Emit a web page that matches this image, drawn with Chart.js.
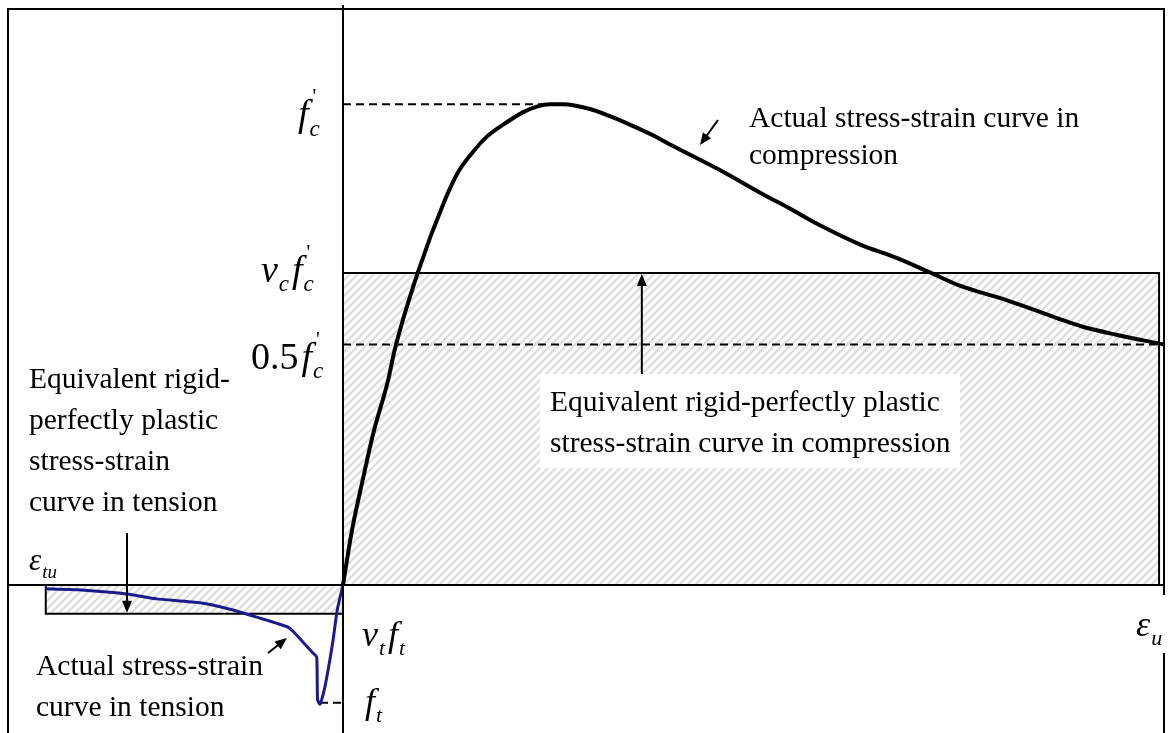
<!DOCTYPE html>
<html>
<head>
<meta charset="utf-8">
<script src="https://cdn.jsdelivr.net/npm/chart.js@4.4.0/dist/chart.umd.min.js"></script>
<style>
  html, body { margin: 0; padding: 0; background: #fff; }
  #wrap { width: 1175px; height: 733px; position: relative; }
</style>
</head>
<body>
<div id="wrap"><canvas id="stressStrain"></canvas></div>
<script>
// Strain is normalised by eps_u, stress by f'c (compression positive).
const compStrain = [0, 0.011, 0.024, 0.037, 0.055, 0.063, 0.091, 0.124, 0.140, 0.158, 0.175, 0.200, 0.219, 0.236, 0.252, 0.268,
  0.301, 0.325, 0.350, 0.378, 0.402, 0.459, 0.512, 0.541, 0.581, 0.630, 0.675, 0.715, 0.752, 0.780, 0.809, 0.873, 0.901, 0.943, 1.0];
const compStress = [0, 0.114, 0.218, 0.316, 0.426, 0.489, 0.649, 0.800, 0.858, 0.900, 0.932, 0.963, 0.983, 0.995, 1.0, 1.0,
  0.990, 0.975, 0.957, 0.935, 0.913, 0.863, 0.812, 0.786, 0.748, 0.708, 0.680, 0.650, 0.622, 0.607, 0.592, 0.553, 0.537, 0.520, 0.5];

const tensStrain = [-0.362, -0.323, -0.263, -0.227, -0.174, -0.134, -0.105, -0.068, -0.060, -0.037, -0.032, -0.031, -0.028,
  -0.022, -0.016, -0.012, -0.007, 0];
const tensStress = [-0.008, -0.010, -0.019, -0.029, -0.037, -0.052, -0.067, -0.087, -0.098, -0.141, -0.150, -0.239, -0.248,
  -0.212, -0.156, -0.114, -0.052, 0];

// characteristic levels
const fc = 1.0;
const vcFc = 0.649;
const halfFc = 0.5;
const vtFt = -0.060;
const ft = -0.245;
const epsU = 1.0;
const epsTu = -0.362;
const blockEnd = 0.994;
const fcDashEnd = 0.276;
const ftDashStart = -0.028;

const xMin = -0.408, xMax = epsU;
const yMin = -0.308, yMax = 1.198;

const SERIF = '"Liberation Serif", "Times New Roman", serif';

function pts(xs, ys) {
  return xs.map((x, i) => ({ x: x, y: ys[i] }));
}

function hatchPattern() {
  const c = document.createElement('canvas');
  c.width = 8; c.height = 8;
  const g = c.getContext('2d');
  g.strokeStyle = '#dedede';
  g.lineWidth = 2.3;
  g.beginPath();
  g.moveTo(0, 8); g.lineTo(8, 0);
  g.moveTo(-1, 1); g.lineTo(1, -1);
  g.moveTo(7, 9); g.lineTo(9, 7);
  g.stroke();
  return g.createPattern(c, 'repeat');
}

function arrow(ctx, x1, y1, x2, y2) {
  const a = Math.atan2(y2 - y1, x2 - x1);
  const len = 12, half = 5;
  ctx.beginPath();
  ctx.moveTo(x1, y1);
  ctx.lineTo(x2 - Math.cos(a) * len * 0.8, y2 - Math.sin(a) * len * 0.8);
  ctx.stroke();
  ctx.beginPath();
  ctx.moveTo(x2, y2);
  ctx.lineTo(x2 - Math.cos(a) * len - Math.sin(a) * half, y2 - Math.sin(a) * len + Math.cos(a) * half);
  ctx.lineTo(x2 - Math.cos(a) * len + Math.sin(a) * half, y2 - Math.sin(a) * len - Math.cos(a) * half);
  ctx.closePath();
  ctx.fill();
}

// symbol with subscript and optional prime, e.g. f_c'
function symbol(ctx, pieces, x, y, size) {
  const sub = Math.round(size * 0.6);
  let cx = x;
  pieces.forEach(p => {
    ctx.font = (p.upright ? '' : 'italic ') + size + 'px ' + SERIF;
    ctx.fillText(p.base, cx, y);
    cx += ctx.measureText(p.base).width;
    let w = 0;
    if (p.sub) {
      ctx.font = 'italic ' + sub + 'px ' + SERIF;
      ctx.fillText(p.sub, cx + 1, y + size * 0.25);
      w = ctx.measureText(p.sub).width + 1;
    }
    if (p.prime) {
      ctx.font = Math.round(size * 0.55) + 'px ' + SERIF;
      ctx.fillText("'", cx + 4, y - size * 0.6);
      w = Math.max(w, 8);
    }
    cx += w + (p.gap || 0);
  });
}

function textLines(ctx, lines, x, y, step) {
  ctx.font = '29.5px ' + SERIF;
  lines.forEach((t, i) => ctx.fillText(t, x, y + i * step));
}

const decor = {
  id: 'decor',
  afterDatasetsDraw(chart) {
    const { ctx, chartArea: a, scales: { x, y } } = chart;
    const x0 = x.getPixelForValue(0), y0 = y.getPixelForValue(0);
    ctx.save();
    ctx.strokeStyle = '#000';
    ctx.fillStyle = '#000';
    ctx.lineWidth = 2;
    ctx.textBaseline = 'alphabetic';

    // outer frame (open at the bottom) and the two axes
    ctx.beginPath();
    ctx.moveTo(a.left, a.bottom); ctx.lineTo(a.left, a.top);
    ctx.lineTo(a.right, a.top); ctx.lineTo(a.right, a.bottom);
    ctx.moveTo(x0, a.top - 4); ctx.lineTo(x0, a.bottom);
    ctx.moveTo(a.left, y0); ctx.lineTo(a.right, y0);
    ctx.stroke();

    // pointers
    arrow(ctx, 718, 120, 700, 145);
    arrow(ctx, x.getPixelForValue(0.364), 375, x.getPixelForValue(0.364), y.getPixelForValue(vcFc) + 1);
    arrow(ctx, 127, 533, 127, y.getPixelForValue(vtFt) - 1);
    arrow(ctx, 268, 653, 287, 638);

    // white panels behind labels
    ctx.fillStyle = '#fff';
    ctx.fillRect(540, 374, 420, 94);
    ctx.fillRect(a.right - 31, 595, 42, 58);
    ctx.fillRect(25, 545, 44, 38);
    ctx.fillStyle = '#000';

    textLines(ctx, ['Actual stress-strain curve in', 'compression'], 749, 127, 37);
    textLines(ctx, ['Equivalent rigid-perfectly plastic', 'stress-strain curve in compression'], 550, 411, 41);
    textLines(ctx, ['Equivalent rigid-', 'perfectly plastic', 'stress-strain', 'curve in tension'], 29, 388, 41);
    textLines(ctx, ['Actual stress-strain', 'curve in tension'], 36, 675, 41);

    // level symbols along the stress axis
    symbol(ctx, [{ base: 'f', sub: 'c', prime: true }], x0 - 45, y.getPixelForValue(fc) + 22, 38);
    symbol(ctx, [{ base: 'v', sub: 'c', gap: 3 }, { base: 'f', sub: 'c', prime: true }], x0 - 82, y.getPixelForValue(vcFc) + 9, 38);
    symbol(ctx, [{ base: '0.5', upright: true, gap: 3 }, { base: 'f', sub: 'c', prime: true }], x0 - 92, y.getPixelForValue(halfFc) + 24, 38);
    symbol(ctx, [{ base: 'v', sub: 't', gap: 3 }, { base: 'f', sub: 't' }], x0 + 19, y.getPixelForValue(vtFt) + 32, 36);
    symbol(ctx, [{ base: 'f', sub: 't' }], x0 + 22, y.getPixelForValue(ft) + 10, 36);
    symbol(ctx, [{ base: '\u03b5', sub: 'u' }], x.getPixelForValue(epsU) - 28, 636, 36);
    symbol(ctx, [{ base: '\u03b5', sub: 'tu' }], 29, 570, 31);
    ctx.restore();
  }
};

document.addEventListener('DOMContentLoaded', function() {
  const hatch = hatchPattern();
  const dashed = { borderColor: '#000', borderWidth: 2, borderDash: [8, 5], pointRadius: 0, fill: false, order: 3 };

  new Chart(document.getElementById('stressStrain'), {
    type: 'scatter',
    data: {
      datasets: [
        {
          label: 'compression',
          data: pts(compStrain, compStress),
          showLine: true, borderColor: '#000', borderWidth: 4, cubicInterpolationMode: 'monotone',
          pointRadius: 0, fill: false, order: 0
        },
        {
          label: 'tension',
          data: pts(tensStrain, tensStress),
          showLine: true, borderColor: '#1b1b8e', borderWidth: 3, tension: 0.15,
          pointRadius: 0, fill: false, order: 1
        },
        Object.assign({ label: "f'c", data: [{ x: 0, y: fc }, { x: fcDashEnd, y: fc }], showLine: true }, dashed),
        Object.assign({ label: "0.5f'c", data: [{ x: 0, y: halfFc }, { x: epsU, y: halfFc }], showLine: true }, dashed),
        Object.assign({ label: 'ft', data: [{ x: ftDashStart, y: ft }, { x: 0, y: ft }], showLine: true }, dashed),
        {
          label: 'rigid-plastic compression',
          data: [{ x: 0, y: 0 }, { x: 0, y: vcFc }, { x: blockEnd, y: vcFc }, { x: blockEnd, y: 0 }],
          showLine: true, borderColor: '#000', borderWidth: 2, backgroundColor: hatch,
          pointRadius: 0, fill: 'origin', tension: 0, order: 5
        },
        {
          label: 'rigid-plastic tension',
          data: [{ x: epsTu, y: 0 }, { x: epsTu, y: vtFt }, { x: 0, y: vtFt }, { x: 0, y: 0 }],
          showLine: true, borderColor: '#000', borderWidth: 2, backgroundColor: hatch,
          pointRadius: 0, fill: 'origin', tension: 0, order: 5
        }
      ]
    },
    options: {
      responsive: true,
      maintainAspectRatio: false,
      animation: false,
      events: [],
      layout: { padding: { left: 8, right: 11, top: 9, bottom: 0 } },
      scales: {
        x: { type: 'linear', min: xMin, max: xMax, display: false },
        y: { type: 'linear', min: yMin, max: yMax, display: false }
      },
      plugins: {
        legend: { display: false },
        tooltip: { enabled: false }
      }
    },
    plugins: [decor]
  });
});
</script>
</body>
</html>
